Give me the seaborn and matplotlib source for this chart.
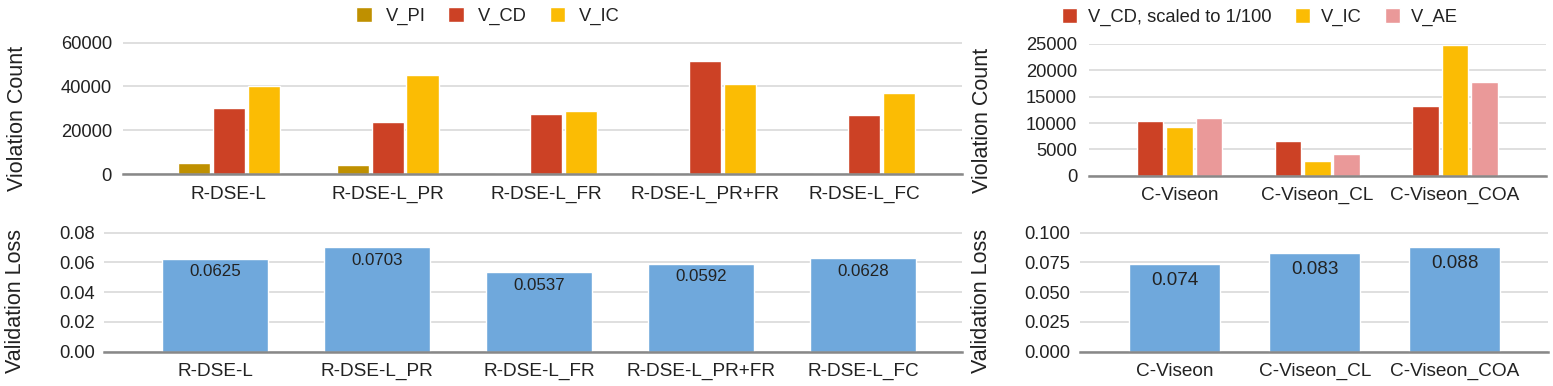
import matplotlib
matplotlib.use("Agg")
import matplotlib.pyplot as plt
import seaborn as sns
import pandas as pd

# ---------------- data ----------------
models_r = ["R-DSE-L", "R-DSE-L_PR", "R-DSE-L_FR", "R-DSE-L_PR+FR", "R-DSE-L_FC"]
series_r = ["V_PI", "V_CD", "V_IC"]
v_pi = [5000, 4400, 0, 0, 0]
v_cd = [30000, 23800, 27600, 51600, 26800]
v_ic = [40300, 45000, 28700, 40900, 37200]
loss_r = [0.0625, 0.0703, 0.0537, 0.0592, 0.0628]

models_c = ["C-Viseon", "C-Viseon_CL", "C-Viseon_COA"]
series_c = ["V_CD, scaled to 1/100", "V_IC", "V_AE"]
c_cd = [10400, 6600, 13200]
c_ic = [9200, 2750, 24750]
c_ae = [10900, 4050, 17700]
loss_c = [0.074, 0.083, 0.088]

col_pi, col_cd, col_ic, col_ae, col_blue = "#bf9000", "#cc4125", "#fbbc04", "#ea9999", "#6fa8dc"

sns.set_theme(style="white")
plt.rcParams["font.family"] = ["Liberation Sans", "DejaVu Sans"]
TXT = "#222222"
FS = 13.2
FSX = 13.7

W, H = 1553, 386
fig = plt.figure(figsize=(W / 100, H / 100), dpi=100)


def add_ax(x0, x1, ytop, ybot):
    return fig.add_axes([x0 / W, 1 - ybot / H, (x1 - x0) / W, (ybot - ytop) / H])


def style(ax, ylim, yticks, ylabel, ypad, label_xy, xlim, fmt):
    ax.set_ylim(0, ylim * 1.002)
    ax.set_xlim(*xlim)
    ax.set_yticks(yticks)
    ax.set_yticklabels([fmt(t) for t in yticks])
    ax.yaxis.grid(True, color="#d9d9d9", lw=1.2)
    ax.set_axisbelow(True)
    for s in ["top", "right", "left"]:
        ax.spines[s].set_visible(False)
    ax.spines["bottom"].set_color("#888888")
    ax.spines["bottom"].set_linewidth(1.8)
    ax.tick_params(axis="y", length=0, pad=ypad, labelsize=FS, labelcolor=TXT)
    ax.tick_params(axis="x", length=0, pad=8.2, labelsize=FSX, labelcolor=TXT)
    ax.set_xlabel("")
    ax.set_ylabel(ylabel, fontsize=15.5, color=TXT, va="center")
    ax.yaxis.set_label_coords(*label_xy)


# ---------------- top-left ----------------
df_r = pd.DataFrame({
    "model": models_r * 3,
    "series": [series_r[0]] * 5 + [series_r[1]] * 5 + [series_r[2]] * 5,
    "value": v_pi + v_cd + v_ic,
})
ax1 = add_ax(123, 962, 42.3, 174.3)
sns.barplot(data=df_r, x="model", y="value", hue="series", hue_order=series_r,
            palette=[col_pi, col_cd, col_ic], saturation=1, width=0.66, gap=0.08,
            ax=ax1, legend=True)
style(ax1, 60000, [0, 20000, 40000, 60000], "Violation Count", 8,
      (-0.126, 0.423), (-0.666, 4.617), lambda t: f"{int(t)}")
h, l = ax1.get_legend_handles_labels()
ax1.get_legend().remove()
fig.legend(h, l, loc="center", bbox_to_anchor=(488 / W, 1 - 16 / H), ncol=3,
           frameon=False, fontsize=FS, handlelength=0.85, handleheight=0.85,
           handletextpad=0.75, columnspacing=1.25, labelcolor=TXT)

# ---------------- bottom-left ----------------
ax2 = add_ax(104, 962, 232.3, 351.7)
sns.barplot(x=models_r, y=loss_r, color=col_blue, saturation=1, width=0.65, ax=ax2)
style(ax2, 0.08, [0, 0.02, 0.04, 0.06, 0.08], "Validation Loss", 6.5,
      (-0.103, 0.426), (-0.685, 4.61), lambda t: f"{t:.2f}")
for i, v in enumerate(loss_r):
    ax2.annotate(f"{v}", xy=(i, v), xytext=(0, -9.6), textcoords="offset points",
                 ha="center", va="center", fontsize=12.2, color=TXT)

# ---------------- top-right ----------------
df_c = pd.DataFrame({
    "model": models_c * 3,
    "series": [series_c[0]] * 3 + [series_c[1]] * 3 + [series_c[2]] * 3,
    "value": c_cd + c_ic + c_ae,
})
ax3 = add_ax(1088.6, 1546, 43.7, 175.7)
sns.barplot(data=df_c, x="model", y="value", hue="series", hue_order=series_c,
            palette=[col_cd, col_ic, col_ae], saturation=1, width=0.64, gap=0.1,
            ax=ax3, legend=True)
style(ax3, 25000, [0, 5000, 10000, 15000, 20000, 25000], "Violation Count", 8.3,
      (-0.232, 0.422), (-0.66, 2.66), lambda t: f"{int(t)}")
h, l = ax3.get_legend_handles_labels()
ax3.get_legend().remove()
fig.legend(h, l, loc="center", bbox_to_anchor=(1260 / W, 1 - 17 / H), ncol=3,
           frameon=False, fontsize=FS, handlelength=0.85, handleheight=0.85,
           handletextpad=0.6, columnspacing=1.25, labelcolor=TXT)

# ---------------- bottom-right ----------------
ax4 = add_ax(1080.3, 1548, 232.3, 351.7)
sns.barplot(x=models_c, y=loss_c, color=col_blue, saturation=1, width=0.648, ax=ax4)
style(ax4, 0.1, [0, 0.025, 0.05, 0.075, 0.1], "Validation Loss", 7.2,
      (-0.211, 0.426), (-0.674, 2.666), lambda t: f"{t:.3f}")
for i, v in enumerate(loss_c):
    ax4.annotate(f"{v}", xy=(i, v), xytext=(0, -12), textcoords="offset points",
                 ha="center", va="center", fontsize=13.6, color=TXT)

fig.savefig("out.png", dpi=100)
